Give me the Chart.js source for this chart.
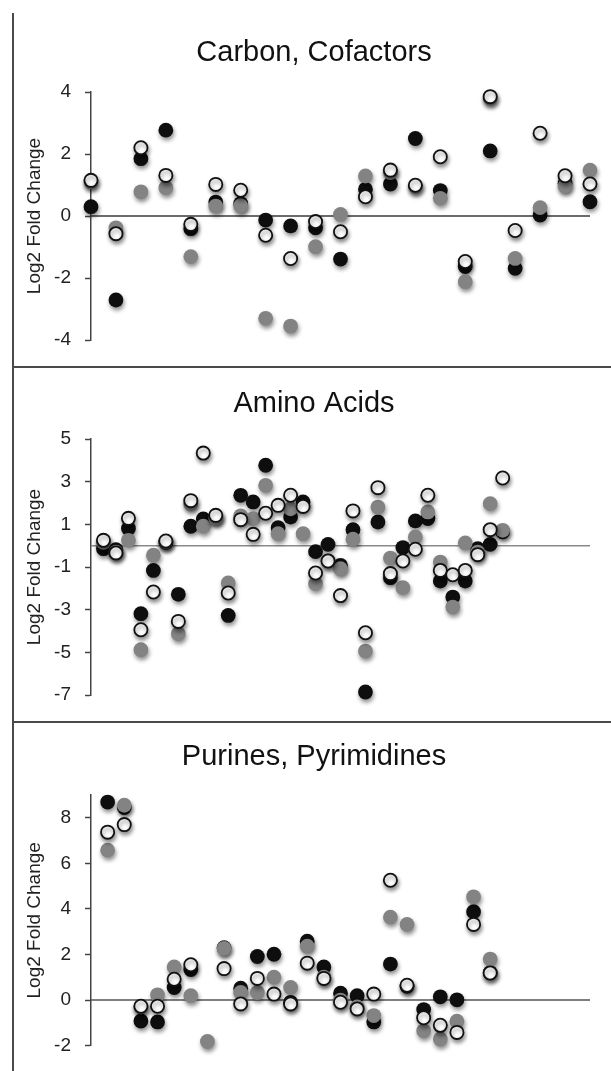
<!DOCTYPE html>
<html><head><meta charset="utf-8">
<script src="https://cdn.jsdelivr.net/npm/chart.js"></script>
<style>
html,body{margin:0;padding:0;background:#fff;}
#wrap{position:relative;width:611px;height:1071px;overflow:hidden;background:#fff;}
canvas{position:absolute;left:0;}
.ln{position:absolute;background:#4a4a4a;}
</style></head><body>
<div id="wrap">
<canvas id="c1" width="611" height="367" style="top:0px"></canvas>
<canvas id="c2" width="611" height="355" style="top:367px"></canvas>
<canvas id="c3" width="611" height="349" style="top:722px"></canvas>
<div class="ln" style="left:12px;top:13px;width:2px;height:1058px"></div>
<div class="ln" style="left:12px;top:366px;width:599px;height:2px"></div>
<div class="ln" style="left:12px;top:721px;width:599px;height:2px"></div>
</div>
<script>
// ---- Panel 1: Carbon, Cofactors ----
const title1 = 'Carbon, Cofactors';
const cats1 = [0,1,2,3,4,5,6,7,8,9,10,11,12,13,14,15,16,17,18,19,20];
const black1 = [0.30,-2.71,1.85,2.77,-0.41,0.45,0.40,-0.13,-0.32,-0.38,-1.39,0.86,1.03,2.50,0.82,-1.63,2.10,-1.69,0.03,1.05,0.46];
const gray1  = [1.10,-0.38,0.78,0.91,-1.31,0.32,0.33,-3.30,-3.55,-0.99,0.05,1.29,1.40,0.95,0.57,-2.12,3.80,-1.37,0.27,0.97,1.48];
const white1 = [1.15,-0.57,2.20,1.31,-0.27,1.02,0.83,-0.62,-1.37,-0.18,-0.51,0.62,1.48,0.99,1.91,-1.47,3.85,-0.47,2.67,1.30,1.03];
const ticks1 = [-4,-2,0,2,4];

// ---- Panel 2: Amino Acids ----
const title2 = 'Amino Acids';
const cats2 = [1,2,3,4,5,6,7,8,9,10,11,12,13,14,15,16,17,18,19,20,21,22,23,24,25,26,27,28,29,30,31,32,33];
const black2 = [-0.14,-0.19,0.80,-3.19,-1.16,0.15,-2.28,0.91,1.25,1.35,-3.27,2.36,2.05,3.77,0.84,1.34,2.05,-0.28,0.06,-0.92,0.75,-6.86,1.11,-1.50,-0.09,1.16,1.27,-1.66,-2.41,-1.66,-0.14,0.06,0.65];
const gray2  = [0.15,-0.30,0.25,-4.88,-0.45,0.20,-4.13,1.95,0.91,1.30,-1.75,1.40,1.27,2.83,0.56,1.73,0.56,-1.78,-0.70,-1.08,0.30,-4.94,1.81,-0.58,-1.97,0.41,1.58,-0.77,-2.88,0.13,-0.30,1.97,0.72];
const white2 = [0.25,-0.34,1.28,-3.94,-2.17,0.22,-3.55,2.11,4.34,1.42,-2.22,1.22,0.53,1.52,1.89,2.36,1.84,-1.28,-0.72,-2.34,1.63,-4.08,2.72,-1.31,-0.72,-0.17,2.36,-1.16,-1.36,-1.16,-0.42,0.75,3.17];
const ticks2 = [-7,-5,-3,-1,1,3,5];

// ---- Panel 3: Purines, Pyrimidines ----
const title3 = 'Purines, Pyrimidines';
const cats3 = [1,2,3,4,5,6,7,8,9,10,11,12,13,14,15,16,17,18,19,20,21,22,23,24];
const black3 = [8.69,8.45,-0.92,-0.96,0.55,1.34,null,2.30,0.52,1.91,2.01,-0.10,2.58,1.45,0.30,0.19,-0.96,1.58,0.60,-0.42,0.14,0.01,3.88,1.20];
const gray3  = [6.58,8.55,-0.30,0.23,1.45,0.19,-1.82,2.27,0.33,0.33,1.00,0.55,2.36,1.00,0.00,-0.30,-0.68,3.64,3.32,-1.35,-1.71,-0.93,4.53,1.80];
const white3 = [7.37,7.70,-0.27,-0.27,0.91,1.55,null,1.38,-0.17,0.95,0.26,-0.17,1.62,0.95,-0.10,-0.39,0.26,5.26,0.65,-0.78,-1.11,-1.42,3.32,1.19];
const ticks3 = [-2,0,2,4,6,8];

const yTitle = 'Log2 Fold Change';
const FONT = '"Liberation Sans", Arial, Helvetica, sans-serif';

const shadowPlugin = {
  id: 'dropShadow',
  beforeDatasetDraw(chart, args) {
    if (!chart.data.datasets[args.index].shadow) return;
    const c = chart.ctx;
    c.save();
    c.shadowColor = 'rgba(0,0,0,0.45)';
    c.shadowBlur = 4;
    c.shadowOffsetX = 1;
    c.shadowOffsetY = 3;
  },
  afterDatasetDraw(chart, args) {
    if (!chart.data.datasets[args.index].shadow) return;
    chart.ctx.restore();
  }
};

function pts(xs, ys) {
  const out = [];
  xs.forEach((x, i) => { if (ys[i] !== null && ys[i] !== undefined) out.push({x: x, y: ys[i]}); });
  return out;
}

function makePanel(p) {
  new Chart(document.getElementById(p.id), {
    type: 'scatter',
    data: {
      datasets: [
        {label: 'zero', type: 'line', data: [{x: 0, y: 0}, {x: p.xMax, y: 0}], borderColor: p.zeroColor,
         borderWidth: 1.5, pointRadius: 0, order: 10, clip: false},
        {label: 'black', data: pts(p.cats, p.black), backgroundColor: '#0e0e0e', borderColor: '#0e0e0e',
         borderWidth: 0, pointRadius: 7.4, order: 3, shadow: true, clip: false},
        {label: 'gray', data: pts(p.cats, p.gray), backgroundColor: '#838383', borderColor: '#838383',
         borderWidth: 0, pointRadius: 7.4, order: 2, shadow: true, clip: false},
        {label: 'white', data: pts(p.cats, p.white), backgroundColor: '#ffffff', borderColor: '#111111',
         borderWidth: 1.8, pointRadius: 6.6, order: 1, shadow: true, clip: false}
      ]
    },
    options: {
      responsive: false, animation: false, devicePixelRatio: 1,
      layout: {padding: {left: 38, right: 21, top: 0, bottom: p.padBottom}},
      plugins: {
        legend: {display: false}, tooltip: {enabled: false},
        title: {display: true, text: p.title, color: '#111', font: {family: FONT, size: 29, weight: 'normal'},
                padding: p.titlePad}
      },
      scales: {
        x: {type: 'linear', display: false, min: 0, max: p.xMax},
        y: {
          type: 'linear', min: p.yMin, max: p.yMax,
          afterBuildTicks(s) { s.ticks = p.ticks.map(v => ({value: v})); },
          afterFit(s) { s.width = 53; },
          grid: {display: true, drawOnChartArea: false, drawTicks: true, tickLength: 6, tickColor: '#444', tickWidth: 1.5},
          border: {display: true, color: '#444', width: 1.5},
          ticks: {padding: 14, color: '#222', font: {family: FONT, size: 19}},
          title: {display: true, text: yTitle, color: '#222', font: {family: FONT, size: 19},
                  padding: {top: -14.4, bottom: 0}}
        }
      }
    },
    plugins: [shadowPlugin]
  });
}

makePanel({id: 'c1', title: title1, cats: cats1, black: black1, gray: gray1, white: white1, ticks: ticks1,
  yMin: -4, yMax: 4, xMax: 20, zeroColor: '#3a3a3a', titlePad: {top: 36, bottom: 21.2}, padBottom: 27});
makePanel({id: 'c2', title: title2, cats: cats2, black: black2, gray: gray2, white: white2, ticks: ticks2,
  yMin: -7, yMax: 5, xMax: 40, zeroColor: '#8a8a8a', titlePad: {top: 19.6, bottom: 17.6}, padBottom: 27});
makePanel({id: 'c3', title: title3, cats: cats3, black: black3, gray: gray3, white: white3, ticks: ticks3,
  yMin: -2, yMax: 9, xMax: 30, zeroColor: '#555555', titlePad: {top: 17.6, bottom: 20.6}, padBottom: 20});
</script>
</body></html>
